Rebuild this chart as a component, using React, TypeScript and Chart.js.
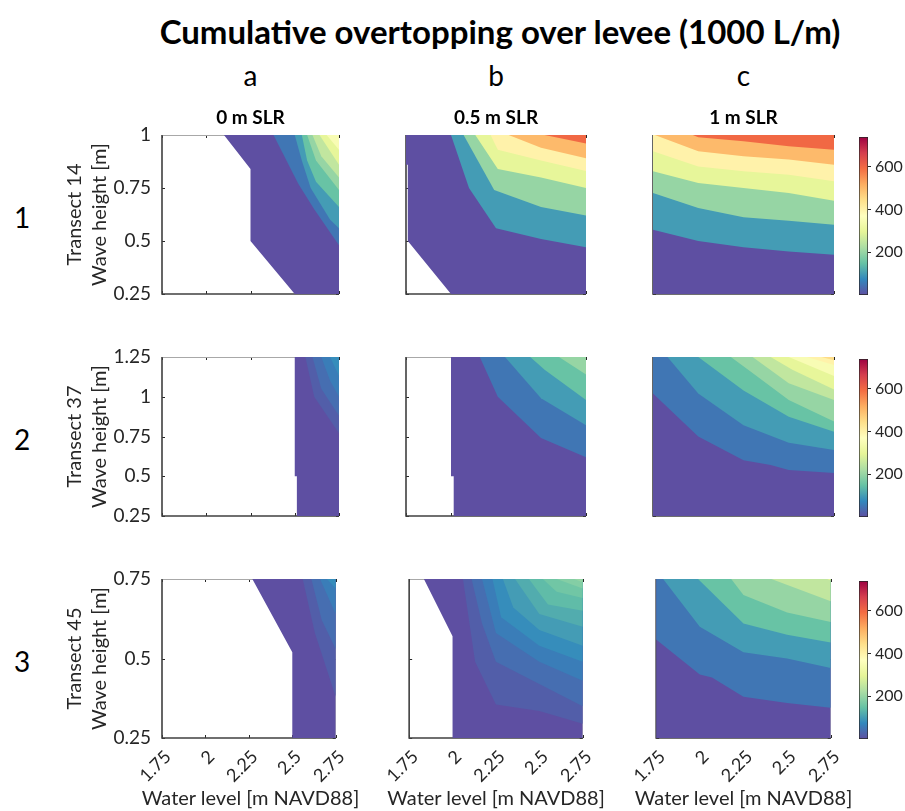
import React, { useEffect, useRef } from 'react';
import { Chart, registerables } from 'chart.js';

Chart.register(...registerables);

// ---------------- data ----------------
const FIGURE_TITLE = 'Cumulative overtopping over levee (1000 L/m)';
const SCENARIOS = ['0 m SLR', '0.5 m SLR', '1 m SLR'];
const COLUMN_LETTERS = ['a', 'b', 'c'];
const ROW_NUMBERS = ['1', '2', '3'];
const TRANSECTS = ['Transect 14', 'Transect 37', 'Transect 45'];
const Y_TITLE = 'Wave height [m]';
const X_TITLE = 'Water level [m NAVD88]';

const WATER_LEVEL_RANGE = [1.75, 2.75];
const WATER_LEVEL_TICKS = [1.75, 2, 2.25, 2.5, 2.75];
const WAVE_RANGE_T14 = [0.25, 1];
const WAVE_TICKS_T14 = [0.25, 0.5, 0.75, 1];
const WAVE_RANGE_T37 = [0.25, 1.25];
const WAVE_TICKS_T37 = [0.25, 0.5, 0.75, 1, 1.25];
const WAVE_RANGE_T45 = [0.25, 0.75];
const WAVE_TICKS_T45 = [0.25, 0.5, 0.75];

const COLORBAR_RANGE = [0, 740];
const COLORBAR_TICKS = [200, 400, 600];
// reversed "Spectral" colormap, low -> high
const SPECTRAL_R = ['#5e4fa2', '#3288bd', '#66c2a5', '#abdda4', '#e6f598', '#ffffbf', '#fee08b', '#fdae61', '#f46d43', '#d53e4f', '#9e0142'];

// Contour levels (1000 L/m) and contour lines as [water level, wave height] vertices.
// Level 0 line = edge of the region with overtopping (white = none).
const T14_SLR0_LEVELS = [0, 50, 100, 150, 200, 250, 300, 350];
const T14_SLR0_LINES = [
  [[2.1, 1], [2.25, 0.84], [2.25, 0.5], [2.5, 0.25]],
  [[2.38, 1], [2.52, 0.77], [2.61, 0.65], [2.75, 0.48]],
  [[2.5, 1], [2.54, 0.88], [2.59, 0.75], [2.7, 0.6], [2.75, 0.56]],
  [[2.54, 1], [2.57, 0.88], [2.62, 0.78], [2.75, 0.66]],
  [[2.57, 1], [2.62, 0.88], [2.75, 0.74]],
  [[2.6, 1], [2.65, 0.9], [2.75, 0.8]],
  [[2.64, 1], [2.75, 0.86]],
  [[2.68, 1], [2.75, 0.93]],
];

const T14_SLR05_LEVELS = [0, 100, 200, 300, 400, 500, 600];
const T14_SLR05_LINES = [
  [[1.75, 1], [1.75, 0.86], [1.76, 0.86], [1.76, 0.5], [2.0, 0.25]],
  [[2.0, 1], [2.1, 0.75], [2.25, 0.56], [2.5, 0.51], [2.75, 0.47]],
  [[2.07, 1], [2.24, 0.74], [2.5, 0.66], [2.75, 0.62]],
  [[2.135, 1], [2.26, 0.84], [2.5, 0.8], [2.75, 0.75]],
  [[2.22, 1], [2.26, 0.93], [2.5, 0.88], [2.75, 0.83]],
  [[2.32, 1], [2.5, 0.94], [2.75, 0.89]],
  [[2.52, 1], [2.75, 0.96]],
];

const T14_SLR1_LEVELS = [0, 100, 200, 300, 400, 500, 600];
const T14_SLR1_LINES = [
  [[1.75, 1], [1.75, 0.25]],
  [[1.75, 0.553], [2.0, 0.5], [2.25, 0.47], [2.5, 0.45], [2.75, 0.435]],
  [[1.75, 0.726], [2.0, 0.656], [2.25, 0.612], [2.5, 0.596], [2.75, 0.577]],
  [[1.75, 0.829], [2.0, 0.774], [2.25, 0.75], [2.5, 0.726], [2.75, 0.69]],
  [[1.75, 0.923], [2.0, 0.852], [2.25, 0.829], [2.5, 0.813], [2.75, 0.782]],
  [[1.76, 1], [2.0, 0.923], [2.25, 0.9], [2.5, 0.884], [2.75, 0.86]],
  [[1.97, 1], [2.0, 0.989], [2.25, 0.97], [2.5, 0.947], [2.75, 0.93]],
];

const T37_SLR0_LEVELS = [0, 20, 40, 60, 80];
const T37_SLR0_LINES = [
  [[2.5, 1.25], [2.5, 0.5], [2.512, 0.5], [2.512, 0.25]],
  [[2.56, 1.25], [2.61, 1.0], [2.75, 0.77]],
  [[2.6, 1.25], [2.65, 1.05], [2.75, 0.88]],
  [[2.65, 1.25], [2.7, 1.1], [2.75, 1.0]],
  [[2.7, 1.25], [2.75, 1.13]],
];

const T37_SLR05_LEVELS = [0, 50, 100, 150, 200];
const T37_SLR05_LINES = [
  [[2.0, 1.25], [2.0, 0.5], [2.015, 0.5], [2.015, 0.25]],
  [[2.16, 1.25], [2.26, 1.0], [2.5, 0.74], [2.75, 0.62]],
  [[2.3, 1.25], [2.5, 0.99], [2.75, 0.82]],
  [[2.44, 1.25], [2.52, 1.17], [2.75, 0.98]],
  [[2.6, 1.25], [2.75, 1.14]],
];

const T37_SLR1_LEVELS = [0, 50, 100, 150, 200, 250, 300, 350, 400, 450];
const T37_SLR1_LINES = [
  [[1.75, 1.25], [1.75, 0.25]],
  [[1.75, 1.02], [2.0, 0.75], [2.25, 0.6], [2.4, 0.57], [2.5, 0.54], [2.75, 0.52]],
  [[1.83, 1.25], [2.0, 1.02], [2.25, 0.82], [2.5, 0.71], [2.75, 0.665]],
  [[2.0, 1.25], [2.25, 1.04], [2.5, 0.875], [2.75, 0.78]],
  [[2.18, 1.25], [2.3, 1.15], [2.5, 0.98], [2.75, 0.845]],
  [[2.3, 1.25], [2.5, 1.085], [2.75, 0.98]],
  [[2.4, 1.25], [2.52, 1.17], [2.75, 1.045]],
  [[2.5, 1.25], [2.75, 1.13]],
  [[2.6, 1.25], [2.75, 1.2]],
  [[2.68, 1.25], [2.75, 1.23]],
];

const T45_SLR0_LEVELS = [0, 20, 40, 60, 80];
const T45_SLR0_LINES = [
  [[2.27, 0.75], [2.5, 0.52], [2.5, 0.25]],
  [[2.56, 0.75], [2.63, 0.58], [2.75, 0.38]],
  [[2.61, 0.75], [2.67, 0.62], [2.75, 0.53]],
  [[2.66, 0.75], [2.75, 0.64]],
  [[2.7, 0.75], [2.75, 0.72]],
];

const T45_SLR05_LEVELS = [0, 20, 40, 60, 80, 100, 120, 140, 160, 180, 200];
const T45_SLR05_LINES = [
  [[1.835, 0.75], [2.0, 0.57], [2.0, 0.25]],
  [[2.06, 0.75], [2.13, 0.49], [2.25, 0.355], [2.5, 0.335], [2.75, 0.295]],
  [[2.11, 0.75], [2.17, 0.61], [2.25, 0.49], [2.5, 0.42], [2.75, 0.35]],
  [[2.17, 0.75], [2.25, 0.58], [2.5, 0.49], [2.75, 0.43]],
  [[2.23, 0.75], [2.28, 0.63], [2.5, 0.54], [2.75, 0.49]],
  [[2.29, 0.75], [2.35, 0.66], [2.5, 0.59], [2.75, 0.54]],
  [[2.36, 0.75], [2.5, 0.64], [2.75, 0.6]],
  [[2.44, 0.75], [2.55, 0.67], [2.75, 0.65]],
  [[2.52, 0.75], [2.6, 0.71], [2.75, 0.69]],
  [[2.6, 0.75], [2.75, 0.72]],
  [[2.7, 0.75], [2.75, 0.74]],
];

const T45_SLR1_LEVELS = [0, 50, 100, 150, 200, 250, 300];
const T45_SLR1_LINES = [
  [[1.75, 0.75], [1.75, 0.25]],
  [[1.75, 0.56], [2.0, 0.45], [2.07, 0.44], [2.25, 0.38], [2.5, 0.36], [2.75, 0.345]],
  [[1.79, 0.75], [2.0, 0.6], [2.25, 0.52], [2.5, 0.5], [2.75, 0.47]],
  [[1.99, 0.75], [2.25, 0.61], [2.5, 0.575], [2.75, 0.55]],
  [[2.18, 0.75], [2.25, 0.7], [2.5, 0.645], [2.75, 0.615]],
  [[2.41, 0.75], [2.75, 0.68]],
  [[2.73, 0.75], [2.75, 0.745]],
];

// ---------------- layout / style ----------------
const FONT = "Lato, 'Noto Sans', sans-serif";
const INK = '#262626';
const COL_X = [[162, 339], [406, 586], [653, 834]];
const ROW_Y = [[135, 294], [357, 516], [579, 738]];
const CBAR_X = [859, 868];
const PAGE_W = 905;
const PAGE_H = 811;

const ROWS = [
  { transect: TRANSECTS[0], range: WAVE_RANGE_T14, ticks: WAVE_TICKS_T14,
    panels: [[T14_SLR0_LEVELS, T14_SLR0_LINES], [T14_SLR05_LEVELS, T14_SLR05_LINES], [T14_SLR1_LEVELS, T14_SLR1_LINES]] },
  { transect: TRANSECTS[1], range: WAVE_RANGE_T37, ticks: WAVE_TICKS_T37,
    panels: [[T37_SLR0_LEVELS, T37_SLR0_LINES], [T37_SLR05_LEVELS, T37_SLR05_LINES], [T37_SLR1_LEVELS, T37_SLR1_LINES]] },
  { transect: TRANSECTS[2], range: WAVE_RANGE_T45, ticks: WAVE_TICKS_T45,
    panels: [[T45_SLR0_LEVELS, T45_SLR0_LINES], [T45_SLR05_LEVELS, T45_SLR05_LINES], [T45_SLR1_LEVELS, T45_SLR1_LINES]] },
];

function hexToRgb(h: string) {
  return [parseInt(h.slice(1, 3), 16), parseInt(h.slice(3, 5), 16), parseInt(h.slice(5, 7), 16)];
}

function cmap(v: number): string {
  const [lo, hi] = COLORBAR_RANGE;
  const n = SPECTRAL_R.length - 1;
  const t = Math.min(1, Math.max(0, (v - lo) / (hi - lo))) * n;
  const i = Math.min(Math.floor(t), n - 1);
  const f = t - i;
  const a = hexToRgb(SPECTRAL_R[i]);
  const b = hexToRgb(SPECTRAL_R[i + 1]);
  const c = a.map((av, k) => Math.round(av + (b[k] - av) * f));
  return `rgb(${c[0]},${c[1]},${c[2]})`;
}

// region on the high side of a contour line (toward the top-right corner)
function highSide(line: number[][], xr: number[], yr: number[]) {
  const first = line[0];
  const last = line[line.length - 1];
  return [...line, [xr[1], last[1]], [xr[1], yr[1]], [first[0], yr[1]]];
}

const framePlugin = {
  id: 'matlabFrame',
  beforeDatasetsDraw(chart: any) {
    const { ctx, chartArea: a } = chart;
    const xs = chart.scales.x;
    const ys = chart.scales.y;
    ctx.save();
    ctx.strokeStyle = INK;
    ctx.lineWidth = 1;
    ctx.beginPath();
    for (const t of xs.ticks) {
      const p = Math.round(xs.getPixelForValue(t.value)) + 0.5;
      ctx.moveTo(p, a.bottom); ctx.lineTo(p, a.bottom - 3);
      ctx.moveTo(p, a.top); ctx.lineTo(p, a.top + 3);
    }
    for (const t of ys.ticks) {
      const p = Math.round(ys.getPixelForValue(t.value)) + 0.5;
      ctx.moveTo(a.left, p); ctx.lineTo(a.left + 3, p);
      ctx.moveTo(a.right, p); ctx.lineTo(a.right - 3, p);
    }
    ctx.stroke();
    ctx.strokeStyle = '#a8a8a8';
    ctx.beginPath();
    ctx.moveTo(a.left, a.top + 0.5); ctx.lineTo(a.right, a.top + 0.5);
    ctx.moveTo(a.right - 0.5, a.top); ctx.lineTo(a.right - 0.5, a.bottom);
    ctx.stroke();
    ctx.strokeStyle = '#404040';
    ctx.lineWidth = 1.6;
    ctx.beginPath();
    ctx.moveTo(a.left, a.top); ctx.lineTo(a.left, a.bottom); ctx.lineTo(a.right, a.bottom);
    ctx.stroke();
    ctx.restore();
  },
};

const PAD_V = 26;

function ContourPanel({ row, col }: { row: number; col: number }) {
  const ref = useRef<HTMLCanvasElement>(null);
  const [L, R] = COL_X[col];
  const [T, B] = ROW_Y[row];
  const left = col === 0 ? 55 : L - 30;
  const yw = L - left;
  const top = row === 0 ? T - 34 : T - PAD_V;
  const xh = row === 2 ? 52 : PAD_V;
  const pr = 20;
  const width = R + pr - left;
  const height = B + xh - top;

  useEffect(() => {
    const rowCfg = ROWS[row];
    const [levels, lines] = rowCfg.panels[col] as [number[], number[][][]];
    const xr = WATER_LEVEL_RANGE;
    const yr = rowCfg.range;
    const datasets = lines.map((ln, i) => ({
      data: highSide(ln, xr, yr).map(([x, y]) => ({ x, y })),
      backgroundColor: cmap(levels[i]),
      borderColor: cmap(levels[i]),
      borderWidth: 0,
      pointRadius: 0,
      pointHoverRadius: 0,
      showLine: true,
      tension: 0,
      fill: 'shape',
    })).reverse();

    const showX = row === 2;
    const showY = col === 0;
    const chart = new Chart(ref.current!, {
      type: 'scatter',
      data: { datasets },
      options: {
        animation: false,
        responsive: false,
        events: [],
        layout: { padding: { left: 0, right: pr, top: row === 0 ? 6 : PAD_V, bottom: 0 } },
        plugins: {
          legend: { display: false },
          tooltip: { enabled: false },
          title: {
            display: row === 0,
            fullSize: false,
            text: SCENARIOS[col],
            color: '#000',
            font: { family: FONT, size: 19, weight: 'bold', lineHeight: '22px' },
            padding: { top: 0, bottom: 6 },
          },
        },
        scales: {
          x: {
            type: 'linear',
            min: xr[0],
            max: xr[1],
            afterBuildTicks: (s: any) => { s.ticks = WATER_LEVEL_TICKS.map((v) => ({ value: v })); },
            afterFit: (s: any) => { s.height = xh; },
            grid: { display: false, drawTicks: false },
            border: { display: false },
            ticks: {
              display: showX,
              autoSkip: false,
              minRotation: 45,
              maxRotation: 45,
              padding: 8,
              labelOffset: 6,
              color: INK,
              font: { family: FONT, size: 18 },
              callback: (v: any) => String(v),
            },
          },
          y: {
            type: 'linear',
            min: yr[0],
            max: yr[1],
            afterBuildTicks: (s: any) => { s.ticks = rowCfg.ticks.map((v) => ({ value: v })); },
            afterFit: (s: any) => { s.width = yw; },
            grid: { display: false, drawTicks: false },
            border: { display: false },
            ticks: {
              display: showY,
              padding: 11,
              color: INK,
              font: { family: FONT, size: 19 },
              callback: (v: any) => String(v),
            },
            title: {
              display: showY,
              text: [rowCfg.transect, Y_TITLE],
              color: INK,
              font: { family: FONT, size: 20, lineHeight: '25px' },
              padding: { top: 7, bottom: 0 },
            },
          },
        },
      },
      plugins: [framePlugin],
    } as any);
    return () => chart.destroy();
  }, []);

  return (
    <canvas
      ref={ref}
      width={width}
      height={height}
      style={{ position: 'absolute', left, top, width, height }}
    />
  );
}

function ColorBar({ row }: { row: number }) {
  const ref = useRef<HTMLCanvasElement>(null);
  const [T, B] = ROW_Y[row];
  const cbTop = T + 2;
  const cbBottom = B + 1;
  const left = CBAR_X[0];
  const width = PAGE_W - left;
  const top = cbTop - 14;
  const height = cbBottom - cbTop + 28;
  const axisW = width - (CBAR_X[1] - CBAR_X[0]);

  useEffect(() => {
    const chart = new Chart(ref.current!, {
      type: 'bar',
      data: {
        labels: [''],
        datasets: [{
          data: [COLORBAR_RANGE],
          backgroundColor: (c: any) => {
            const { ctx, chartArea } = c.chart;
            if (!chartArea) return SPECTRAL_R[0];
            const g = ctx.createLinearGradient(0, chartArea.bottom, 0, chartArea.top);
            SPECTRAL_R.forEach((col, i) => g.addColorStop(i / (SPECTRAL_R.length - 1), col));
            return g;
          },
          borderColor: INK,
          borderWidth: 1,
          borderSkipped: false,
          barPercentage: 1,
          categoryPercentage: 1,
        }],
      },
      options: {
        animation: false,
        responsive: false,
        events: [],
        layout: { padding: { top: 14, bottom: 14, left: 0, right: 0 } },
        plugins: { legend: { display: false }, tooltip: { enabled: false } },
        scales: {
          x: { display: false },
          y: {
            position: 'right',
            min: COLORBAR_RANGE[0],
            max: COLORBAR_RANGE[1],
            afterBuildTicks: (s: any) => { s.ticks = COLORBAR_TICKS.map((v) => ({ value: v })); },
            afterFit: (s: any) => { s.width = axisW; },
            grid: { drawOnChartArea: false, drawTicks: true, tickLength: 3, color: INK },
            border: { display: false },
            ticks: { padding: 4, color: INK, font: { family: FONT, size: 16 }, callback: (v: any) => String(v) },
          },
        },
      },
    } as any);
    return () => chart.destroy();
  }, []);

  return (
    <canvas
      ref={ref}
      width={width}
      height={height}
      style={{ position: 'absolute', left, top, width, height }}
    />
  );
}

function Label({ x, y, text, size, bold, color }: { x: number; y: number; text: string; size: number; bold?: boolean; color?: string }) {
  return (
    <div
      style={{
        position: 'absolute', left: x, top: y, transform: 'translate(-50%, -50%)',
        fontFamily: FONT, fontSize: size, fontWeight: bold ? 700 : 400, color: color || '#000',
        whiteSpace: 'nowrap', lineHeight: 1,
      }}
    >
      {text}
    </div>
  );
}

export default function App() {
  const colCenters = COL_X.map(([l, r]) => (l + r) / 2);
  const rowCenters = ROW_Y.map(([t, b]) => (t + b) / 2);
  return (
    <div style={{ position: 'absolute', left: 0, top: 0, width: PAGE_W, height: PAGE_H, background: '#fff', overflow: 'hidden' }}>
      <Label x={500} y={31} text={FIGURE_TITLE} size={33} bold />
      {COLUMN_LETTERS.map((c, i) => <Label key={c} x={colCenters[i]} y={75} text={c} size={28} />)}
      {ROW_NUMBERS.map((r, i) => <Label key={r} x={22} y={rowCenters[i] + 2} text={r} size={28} />)}
      {ROWS.map((_, r) => [0, 1, 2].map((c) => <ContourPanel key={`${r}-${c}`} row={r} col={c} />))}
      {ROWS.map((_, r) => <ColorBar key={`cb-${r}`} row={r} />)}
      {colCenters.map((cx, i) => <Label key={`xt-${i}`} x={cx} y={797} text={X_TITLE} size={20} color={INK} />)}
    </div>
  );
}
